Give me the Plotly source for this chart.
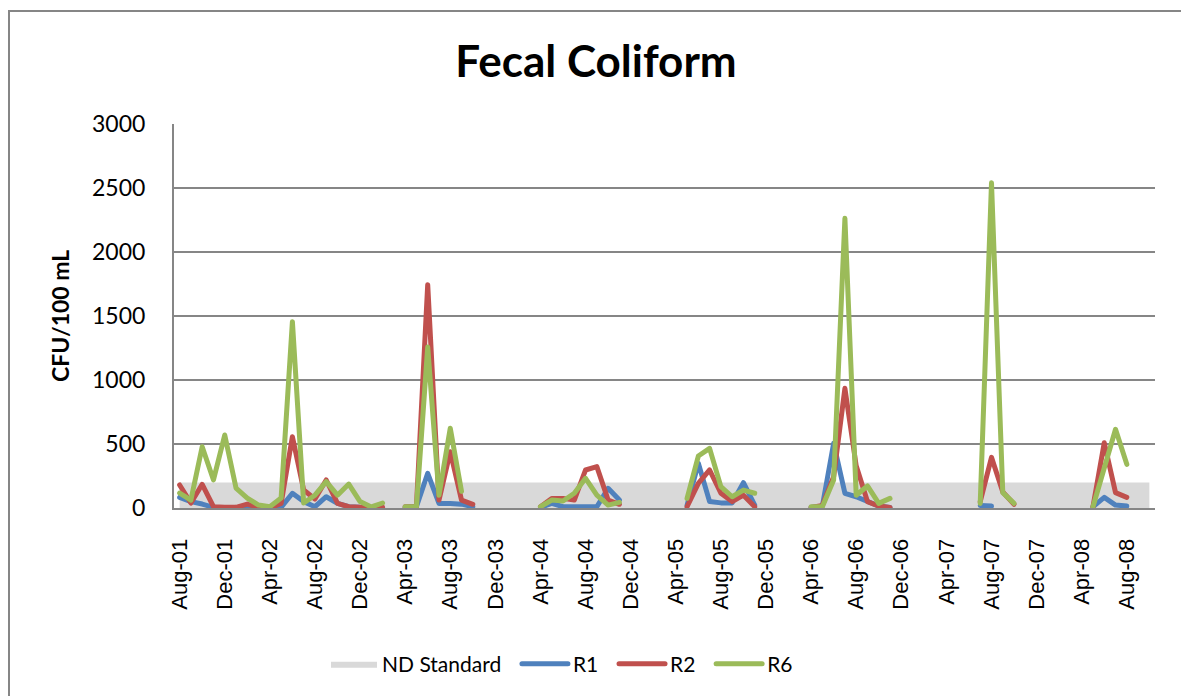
import plotly.graph_objects as go

months = [
    "Aug-01", "Sep-01", "Oct-01", "Nov-01", "Dec-01",
    "Jan-02", "Feb-02", "Mar-02", "Apr-02", "May-02", "Jun-02", "Jul-02", "Aug-02", "Sep-02", "Oct-02", "Nov-02", "Dec-02",
    "Jan-03", "Feb-03", "Mar-03", "Apr-03", "May-03", "Jun-03", "Jul-03", "Aug-03", "Sep-03", "Oct-03", "Nov-03", "Dec-03",
    "Jan-04", "Feb-04", "Mar-04", "Apr-04", "May-04", "Jun-04", "Jul-04", "Aug-04", "Sep-04", "Oct-04", "Nov-04", "Dec-04",
    "Jan-05", "Feb-05", "Mar-05", "Apr-05", "May-05", "Jun-05", "Jul-05", "Aug-05", "Sep-05", "Oct-05", "Nov-05", "Dec-05",
    "Jan-06", "Feb-06", "Mar-06", "Apr-06", "May-06", "Jun-06", "Jul-06", "Aug-06", "Sep-06", "Oct-06", "Nov-06", "Dec-06",
    "Jan-07", "Feb-07", "Mar-07", "Apr-07", "May-07", "Jun-07", "Jul-07", "Aug-07", "Sep-07", "Oct-07", "Nov-07", "Dec-07",
    "Jan-08", "Feb-08", "Mar-08", "Apr-08", "May-08", "Jun-08", "Jul-08", "Aug-08", "Sep-08", "Oct-08",
]

tick_labels = [
    "Aug-01", "Dec-01", "Apr-02", "Aug-02", "Dec-02", "Apr-03", "Aug-03", "Dec-03",
    "Apr-04", "Aug-04", "Dec-04", "Apr-05", "Aug-05", "Dec-05", "Apr-06", "Aug-06",
    "Dec-06", "Apr-07", "Aug-07", "Dec-07", "Apr-08", "Aug-08",
]

N = None
nd_standard = [200] * len(months)

r1 = [
    83, 50, 31, 5, 0, 0, 10, 0, 0, 5, 115, 50, 10, 88, 36, 10, 5, 0, 0, N,
    5, 10, 271, 36, 36, 30, 10, N, N, N, N, N,
    5, 36, 10, 10, 10, 10, 154, 62, N, N, N, N, N,
    20, 349, 50, 40, 40, 198, 23, N, N, N, N,
    5, 15, 505, 115, 88, 50, 15, 5, N, N, N, N, N, N, N,
    20, 15, N, N, N, N, N, N, N, N,
    10, 83, 23, 15, N, N,
]

r2 = [
    180, 39, 185, 10, 5, 5, 31, 5, 0, 36, 557, 140, 70, 219, 36, 10, 5, 0, 5, N,
    10, 10, 1745, 62, 440, 62, 29, N, N, N, N, N,
    10, 75, 75, 62, 297, 323, 62, 29, N, N, N, N, N,
    10, 193, 297, 115, 50, 100, 10, N, N, N, N,
    5, 20, 245, 935, 330, 50, 15, 5, N, N, N, N, N, N, N,
    50, 396, 125, 29, N, N, N, N, N, N,
    10, 510, 120, 83, N, N,
]

r6 = [
    117, 62, 479, 219, 570, 156, 78, 23, 10, 78, 1455, 39, 100, 206, 100, 187, 50, 8, 39, N,
    10, 10, 1258, 100, 623, 130, N, N, N, N, N, N,
    10, 62, 55, 115, 232, 100, 23, 44, N, N, N, N, N,
    75, 406, 466, 167, 88, 140, 115, N, N, N, N,
    10, 10, 219, 2263, 100, 172, 36, 75, N, N, N, N, N, N, N,
    36, 2541, 120, 36, N, N, N, N, N, N,
    10, 310, 615, 341, N, N,
]

PAD = "\u00a0\u00a0"

fig = go.Figure()
fig.add_trace(go.Scatter(
    x=months, y=nd_standard, name="ND Standard" + PAD, mode="lines",
    line=dict(width=0, color="#D9D9D9"), fill="tozeroy", fillcolor="#D9D9D9",
    hoverinfo="skip",
))
for name, vals, color in [("R1", r1, "#4F81BD"), ("R2", r2, "#C0504D"), ("R6", r6, "#9BBB59")]:
    fig.add_trace(go.Scatter(
        x=months, y=vals, name=name + (PAD if name != "R6" else ""), mode="lines",
        line=dict(width=5, color=color), connectgaps=False,
    ))

L, R, T, B = 174, 26, 124, 188
W, H = 1181, 696
pw, ph = W - L - R, H - T - B

fig.update_layout(
    width=W, height=H,
    margin=dict(l=L, r=R, t=T, b=B),
    paper_bgcolor="white", plot_bgcolor="white",
    showlegend=True,
    title=dict(text="<b>Fecal Coliform</b>", x=596 / W, xref="container", xanchor="center",
               y=1 - 62 / H, yref="container", yanchor="middle",
               font=dict(family="Lato", size=44, color="black")),
    legend=dict(orientation="h", x=(562 - L) / pw, xanchor="center",
                y=(508 - 664) / ph, yanchor="middle",
                font=dict(family="Lato", size=21, color="black"),
                traceorder="normal", itemwidth=46),
    xaxis=dict(
        type="category", categoryorder="array", categoryarray=months,
        range=[-0.5, len(months) - 0.5],
        tickmode="array", tickvals=tick_labels, ticktext=tick_labels,
        tickangle=-90, ticks="", showgrid=False,
        showline=True, linecolor="#868686", linewidth=2,
        tickfont=dict(family="Liberation Sans", size=22, color="black"),
        ticklabelstandoff=20, zeroline=False, fixedrange=True,
    ),
    yaxis=dict(
        range=[0, 3000], dtick=500, tick0=0, ticks="",
        showgrid=True, gridcolor="#868686", gridwidth=1.5,
        showline=True, linecolor="#868686", linewidth=2,
        tickfont=dict(family="Lato", size=23, color="black"),
        ticklabelstandoff=22, zeroline=False, fixedrange=True,
    ),
    annotations=[dict(
        text="<b>CFU/100 mL</b>", textangle=-90, xref="paper", yref="paper",
        x=(60 - L) / pw, y=0.5, xanchor="center", yanchor="middle", showarrow=False,
        font=dict(family="Lato", size=23, color="black"),
    )],
    shapes=[dict(
        type="rect", xref="paper", yref="paper",
        x0=(9 - L) / pw, x1=(1195 - L) / pw,
        y0=(508 - 710) / ph, y1=(508 - 11) / ph,
        line=dict(color="#868686", width=2), fillcolor="rgba(0,0,0,0)", layer="below",
    )],
)

round_js = """
document.querySelectorAll('.js-line, .legendlines path').forEach(function(e){
  e.style.strokeLinejoin = 'round';
  e.style.strokeLinecap = 'round';
});
"""

fig.write_html("out.html", post_script=round_js)
